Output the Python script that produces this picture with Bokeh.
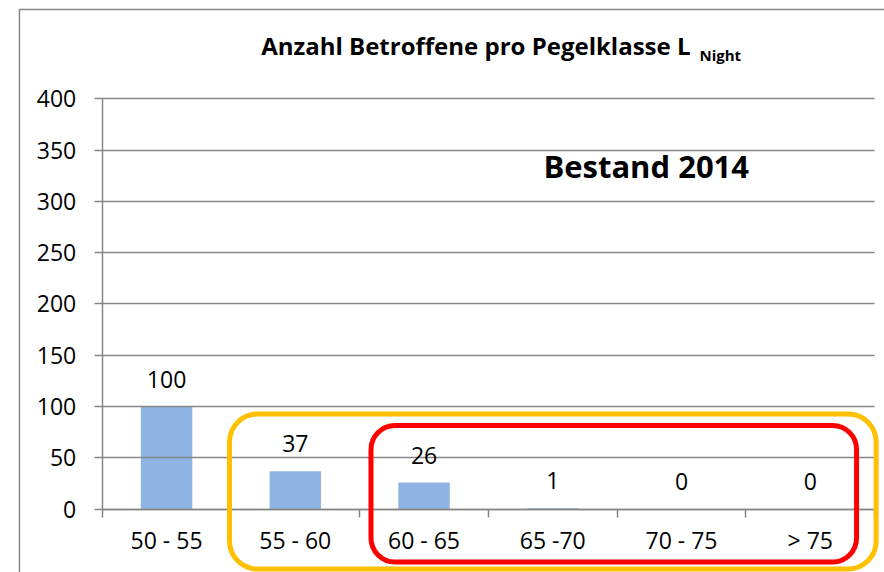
from bokeh.plotting import figure
from bokeh.models import Range1d, FixedTicker, LabelSet, Label, BoxAnnotation, ColumnDataSource, LinearAxis
from bokeh.core.properties import value
from bokeh.embed import file_html
from bokeh.resources import INLINE

categories = ["50 - 55", "55 - 60", "60 - 65", "65 -70", "70 - 75", "> 75"]
values = [100, 37, 26, 1, 0, 0]
y_ticks = [0, 50, 100, 150, 200, 250, 300, 350, 400]
title_text = "Anzahl Betroffene pro Pegelklasse L"
title_sub = "Night"
note_text = "Bestand 2014"

GREY = "#868686"
FONT = "Open Sans"

n = len(categories)
centers = [i + 0.5 for i in range(n)]
bounds = list(range(n + 1))

src = ColumnDataSource(dict(x=centers, top=values, lab=[str(v) for v in values]))

# the frame covers the whole canvas; axes are pinned with fixed_location
p = figure(width=884, height=572, output_backend="svg", toolbar_location=None, title=None,
           x_range=Range1d(-0.790, 6.077), y_range=Range1d(-61.7, 495.8),
           x_axis_type=None, y_axis_type=None,
           min_border_left=0, min_border_right=0, min_border_top=0, min_border_bottom=0)
p.outline_line_color = None
p.background_fill_color = "white"
p.border_fill_color = "white"
p.grid.visible = False

p.vbar(x="x", top="top", width=0.4, bottom=0, source=src, fill_color="#8EB4E3", line_color=None)

ya = LinearAxis(fixed_location=0, bounds=(y_ticks[0], y_ticks[-1]))
ya.ticker = FixedTicker(ticks=y_ticks)
ya.axis_line_color = GREY
ya.axis_line_width = 1.5
ya.major_tick_line_color = GREY
ya.major_tick_line_width = 1.5
ya.major_tick_in = 772
ya.major_tick_out = 8
ya.minor_tick_line_color = None
ya.major_label_text_font = FONT
ya.major_label_text_font_size = "23px"
ya.major_label_text_color = "black"
ya.major_label_standoff = 18
p.add_layout(ya, "left")

xa = LinearAxis(fixed_location=0, bounds=(0, n))
xa.ticker = FixedTicker(ticks=centers, minor_ticks=bounds)
xa.major_label_overrides = {c: cat for c, cat in zip(centers, categories)}
xa.axis_line_color = GREY
xa.axis_line_width = 1.5
xa.major_tick_line_color = None
xa.minor_tick_line_color = GREY
xa.minor_tick_line_width = 1.5
xa.minor_tick_in = 0
xa.minor_tick_out = 8
xa.major_tick_out = 8
xa.major_tick_in = 0
xa.major_label_text_font = FONT
xa.major_label_text_font_size = "23px"
xa.major_label_text_color = "black"
xa.major_label_standoff = 7
p.add_layout(xa, "below")

labels = LabelSet(x="x", y="top", text="lab", source=src, y_offset=19,
                  text_align="center", text_baseline="alphabetic",
                  text_font=value(FONT), text_font_size=value("23px"), text_color="black")
p.add_layout(labels)

# outer chart border
p.add_layout(BoxAnnotation(left=-0.643, right=20, top=487, bottom=-300,
                           fill_alpha=0, line_color="#888888", line_alpha=1, line_width=1.5))

# highlight frames
p.add_layout(BoxAnnotation(left=0.989, right=6.012, top=92.8, bottom=-58.3,
                           fill_alpha=0, line_color="#FFC000", line_alpha=1, line_width=5, border_radius=28))
p.add_layout(BoxAnnotation(left=2.088, right=5.860, top=81.6, bottom=-51.5,
                           fill_alpha=0, line_color="#FF0000", line_alpha=1, line_width=5, border_radius=24))

p.add_layout(Label(x=4.570, y=452.4, text=title_text, text_align="right", text_baseline="alphabetic",
                   text_font=FONT, text_font_style="bold", text_font_size="24px", text_color="black"))
p.add_layout(Label(x=4.640, y=442.4, text=title_sub, text_align="left", text_baseline="alphabetic",
                   text_font=FONT, text_font_style="bold", text_font_size="15px", text_color="black"))
p.add_layout(Label(x=4.226, y=334.7, text=note_text, text_align="center", text_baseline="alphabetic",
                   text_font=FONT, text_font_style="bold", text_font_size="31px", text_color="black"))

open("out.html", "w").write(file_html(p, INLINE))
